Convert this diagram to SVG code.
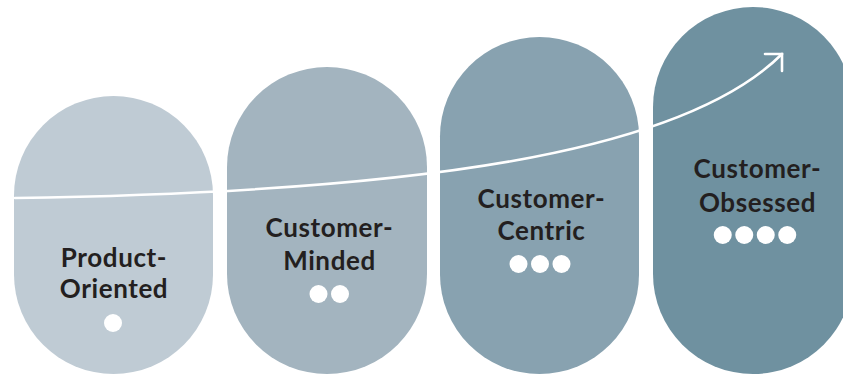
<svg xmlns="http://www.w3.org/2000/svg" width="843" height="375" viewBox="0 0 843 375">
<style>
.lbl{font-family:Lato,"Liberation Sans",sans-serif;font-weight:700;font-size:26px;letter-spacing:0.6px;fill:#231f20;text-anchor:middle}
.dot{fill:#ffffff}
.curve{fill:none;stroke:#ffffff;stroke-width:2.6;stroke-linecap:round;stroke-linejoin:miter}
</style>
<rect width="843" height="375" fill="#ffffff"/>
<g id="node-product-oriented">
<rect x="14" y="96" width="199" height="278" rx="99.5" ry="99.5" fill="#bfcbd4"/>
<text class="lbl" x="114" y="267">Product-</text>
<text class="lbl" x="114" y="298">Oriented</text>
<circle class="dot" cx="113" cy="323" r="9"/>
</g>
<g id="node-customer-minded">
<rect x="227" y="67" width="200" height="307" rx="100" ry="100" fill="#a3b4bf"/>
<text class="lbl" x="329.5" y="237">Customer-</text>
<text class="lbl" x="329.5" y="270">Minded</text>
<circle class="dot" cx="318.5" cy="294" r="9"/>
<circle class="dot" cx="340" cy="294" r="9"/>
</g>
<g id="node-customer-centric">
<rect x="440" y="37" width="199" height="337" rx="99.5" ry="99.5" fill="#88a2b0"/>
<text class="lbl" x="541.5" y="208">Customer-</text>
<text class="lbl" x="541.5" y="240">Centric</text>
<circle class="dot" cx="518.5" cy="264" r="9"/>
<circle class="dot" cx="540" cy="264" r="9"/>
<circle class="dot" cx="561.5" cy="264" r="9"/>
</g>
<g id="node-customer-obsessed">
<rect x="653" y="7" width="200" height="367" rx="100" ry="100" fill="#6f91a0"/>
<text class="lbl" x="757.5" y="178">Customer-</text>
<text class="lbl" x="757.5" y="212">Obsessed</text>
<circle class="dot" cx="722.75" cy="235" r="9"/>
<circle class="dot" cx="744.25" cy="235" r="9"/>
<circle class="dot" cx="765.75" cy="235" r="9"/>
<circle class="dot" cx="787.25" cy="235" r="9"/>
</g>
<g id="connectors">
<path class="curve" d="M15,198 C415,192 682,154 782,54"/>
<polyline class="curve" points="765,54 782,54 782,71"/>
</g>
</svg>
